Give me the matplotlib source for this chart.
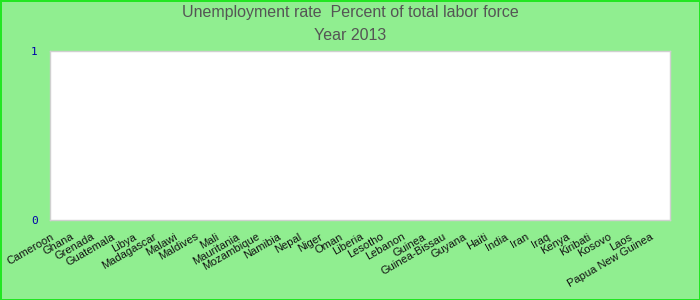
import matplotlib
matplotlib.use("Agg")
import matplotlib.pyplot as plt
from matplotlib.transforms import ScaledTranslation

countries = ["Cameroon", "Ghana", "Grenada", "Guatemala", "Libya", "Madagascar",
             "Malawi", "Maldives", "Mali", "Mauritania", "Mozambique", "Namibia",
             "Nepal", "Niger", "Oman", "Liberia", "Lesotho", "Lebanon", "Guinea",
             "Guinea-Bissau", "Guyana", "Haiti", "India", "Iran", "Iraq", "Kenya",
             "Kiribati", "Kosovo", "Laos", "Papua New Guinea"]
values = [0, 0, 0, 0, 0, 0, 0, 0, 0, 0, 0, 0, 0, 0, 0,
          0, 0, 0, 0, 0, 0, 0, 0, 0, 0, 0, 0, 0, 0, 0]
title1 = "Unemployment rate  Percent of total labor force"
title2 = "Year 2013"

fig = plt.figure(figsize=(7, 3), dpi=100, facecolor="#90EE90")
fig.patch.set_edgecolor("#22e622")
fig.patch.set_linewidth(2)

ax = fig.add_axes([50/700, 1 - 220/300, 620/700, 169/300])
ax.set_facecolor("white")
x = list(range(len(countries)))
ax.bar(x, values, color="#4472c4", width=0.8)
ax.set_xlim(-0.5, len(countries) - 0.5)
ax.set_ylim(0, 1)
ax.set_yticks([0, 1])
ax.set_yticklabels(["0", "1"], family="DejaVu Sans Mono", fontsize=8, color="#0000aa")
ax.set_xticks(x)
ax.set_xticklabels(countries, rotation=30, ha="right", rotation_mode="default",
                   family="Liberation Sans", fontsize=8, color="#111111")
ax.tick_params(axis="y", length=0, pad=9)
ax.tick_params(axis="x", length=0, pad=4)
off = ScaledTranslation(-5/100, -6/100, fig.dpi_scale_trans)
for lbl in ax.get_xticklabels():
    lbl.set_transform(lbl.get_transform() + off)
for s in ax.spines.values():
    s.set_color("#d0d0d0")
    s.set_linewidth(1)

fig.text(0.5, 1 - 13/300, title1, ha="center", va="center", family="Liberation Sans",
         fontsize=11.5, color="#555555")
fig.text(0.5, 1 - 36/300, title2, ha="center", va="center", family="Liberation Sans",
         fontsize=11.5, color="#555555")

fig.savefig("out.png", dpi=100, facecolor=fig.get_facecolor(), edgecolor=fig.patch.get_edgecolor())
